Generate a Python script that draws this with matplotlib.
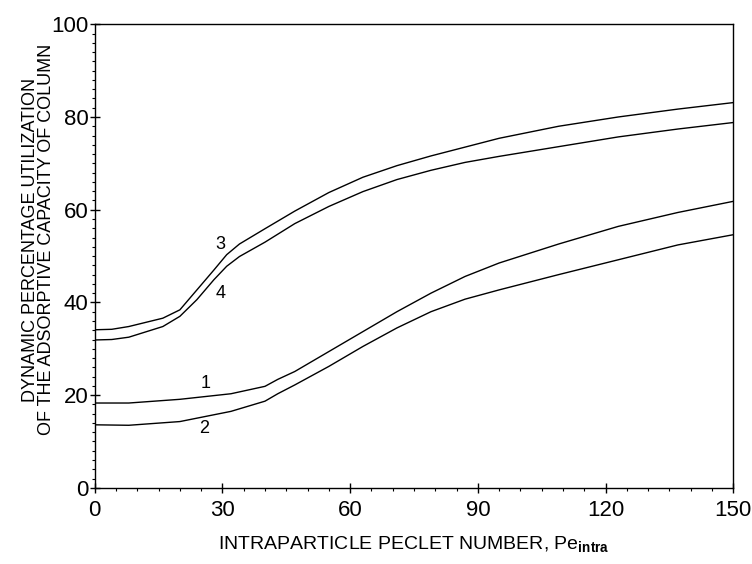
import matplotlib
matplotlib.use("Agg")
import matplotlib.pyplot as plt
from matplotlib.ticker import MultipleLocator

plt.rcParams['font.family'] = ['Liberation Sans', 'DejaVu Sans']
plt.rcParams['mathtext.fontset'] = 'custom'
plt.rcParams['mathtext.rm'] = 'Liberation Sans'
plt.rcParams['mathtext.bf'] = 'Liberation Sans:bold'

# curves 3 and 4 (upper pair)
pe_upper = [0, 4, 8, 16, 20, 24, 28, 31, 34, 40, 47, 55, 63, 71, 79, 87, 95, 109, 123, 137, 150]
curve3 = [34.1, 34.2, 34.8, 36.6, 38.4, 42.7, 47.0, 50.3, 52.6, 55.9, 59.7, 63.7, 67.0,
          69.5, 71.6, 73.5, 75.4, 78.0, 80.0, 81.7, 83.1]
curve4 = [31.9, 32.0, 32.5, 34.8, 37.0, 40.6, 44.9, 47.8, 49.9, 53.0, 57.0, 60.7, 63.9,
          66.5, 68.5, 70.2, 71.5, 73.6, 75.7, 77.4, 78.8]

# curves 1 and 2 (lower pair)
pe_lower = [0, 8, 20, 32, 40, 43, 47, 55, 63, 71, 79, 87, 95, 109, 123, 137, 150]
curve1 = [18.3, 18.3, 19.1, 20.3, 21.9, 23.4, 25.1, 29.4, 33.7, 38.0, 42.0, 45.6, 48.5,
          52.6, 56.4, 59.4, 61.8]
curve2 = [13.6, 13.5, 14.3, 16.5, 18.7, 20.3, 22.2, 26.2, 30.5, 34.5, 38.0, 40.7, 42.7,
          46.0, 49.2, 52.4, 54.6]

labels = ['1', '2', '3', '4']
label_x = [26.1, 25.7, 29.5, 29.5]
label_y = [22.6, 12.7, 52.4, 42.0]

fig = plt.figure(figsize=(7.52, 5.64), dpi=100)
ax = fig.add_axes([0.126, 0.135, 0.849, 0.822])

ax.plot(pe_upper, curve3, color='black', lw=1.0)
ax.plot(pe_upper, curve4, color='black', lw=1.0)
ax.plot(pe_lower, curve1, color='black', lw=1.0)
ax.plot(pe_lower, curve2, color='black', lw=1.0)

for i in range(len(labels)):
    ax.text(label_x[i], label_y[i], labels[i], fontsize=13, ha='center', va='center')

ax.set_xlim(0, 150)
ax.set_ylim(0, 100)
ax.set_xticks([0, 30, 60, 90, 120, 150])
ax.set_yticks([0, 20, 40, 60, 80, 100])
ax.xaxis.set_minor_locator(MultipleLocator(5))
ax.yaxis.set_minor_locator(MultipleLocator(2))
ax.tick_params(which='major', direction='inout', length=7, width=1.0, labelsize=16, pad=5)
ax.tick_params(which='minor', direction='out', length=2, width=0.8)
ax.tick_params(axis='y', pad=1)
for s in ax.spines.values():
    s.set_linewidth(1.0)

ax.set_xlabel('INTRAPARTICLE PECLET NUMBER, Pe$_{\\mathbf{intra}}$', fontsize=14, labelpad=10)
ax.text(-0.088, 0.535, 'DYNAMIC PERCENTAGE UTILIZATION\nOF THE ADSORPTIVE CAPACITY OF COLUMN',
        transform=ax.transAxes, rotation=90, fontsize=13, ha='center', va='center',
        linespacing=0.9)

fig.savefig('out.png', dpi=100)
